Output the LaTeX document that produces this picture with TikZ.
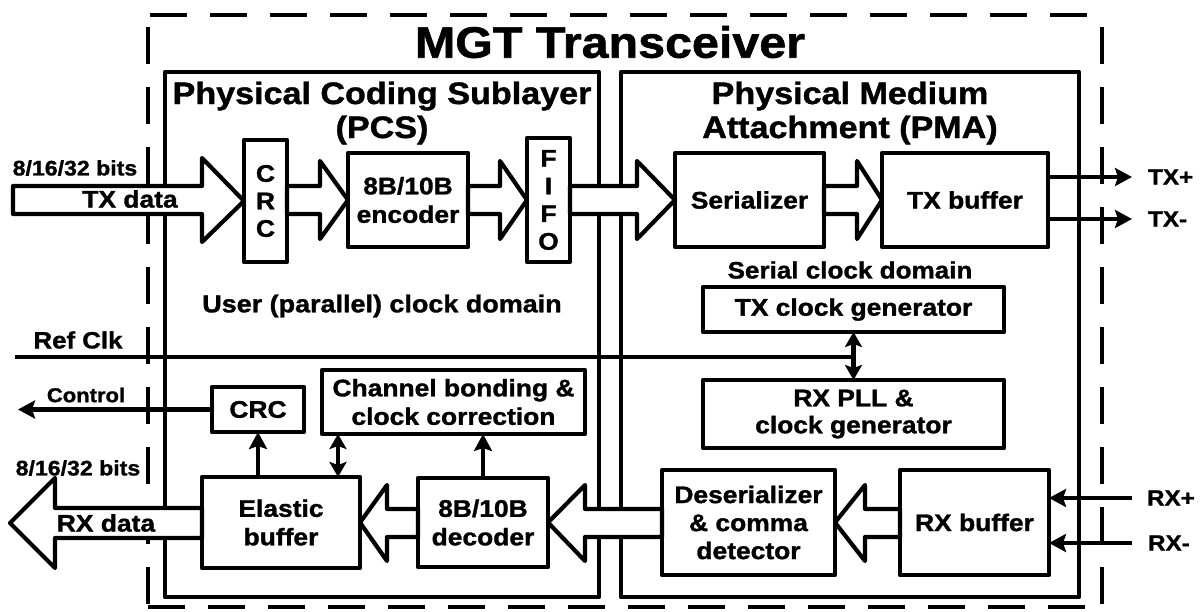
\documentclass[tikz,border=0pt]{standalone}
\usepackage{fontspec}
\setmainfont{Liberation Sans}[FakeStretch=1.1, BoldFeatures={FakeBold=1.3}]
\usetikzlibrary{arrows.meta}
\newcommand\fsz[2]{\fontsize{#1}{#2}\selectfont\bfseries}
\tikzset{
  box/.style={draw, fill=white, rectangle, inner sep=0pt, outer sep=0pt, align=center, font=\fsz{24}{28.5}},
  layer/.style={draw, rectangle, inner sep=0pt, outer sep=0pt},
  blk/.style={draw, fill=white},
  outer/.style={line cap=butt, dash pattern=on 37pt off 23pt},
  thinarr/.style={-{Stealth[length=17pt,width=18pt,inset=3pt]}},
  dblarr/.style={{Stealth[length=15pt,width=17pt,inset=3pt]}-{Stealth[length=15pt,width=17pt,inset=3pt]}},
  lbl/.style={inner sep=0pt, font=\fsz{24}{28}},
  small/.style={inner sep=0pt, font=\fsz{21}{24}},
}
\begin{document}
\begin{tikzpicture}[x=1pt,y=-1pt,line width=4.2pt,line join=round]
\useasboundingbox (0,0) rectangle (1203,612);
% outer dashed frame
\draw[outer] (150,15) -- (1102,15);
\draw[outer] (148,27) -- (148,607);
\draw[outer] (1102,27) -- (1102,607);
\draw[outer] (148,607) -- (1102,607);
\node[inner sep=0pt, font=\fsz{44}{48}] (title) at (610,42) {MGT Transceiver};
% sublayers
\node[layer, minimum width=434pt, minimum height=525pt] (pcs) at (382,334.5) {};
\node[layer, minimum width=458pt, minimum height=525pt] (pma) at (850,334.5) {};
\node[inner sep=0pt, align=center, font=\fsz{31}{34}] (pcsl) at (382,113) {Physical Coding Sublayer\\(PCS)};
\node[inner sep=0pt, align=center, font=\fsz{31}{34}] (pmal) at (850,113) {Physical Medium\\Attachment (PMA)};
% TX path boxes
\node[box, minimum width=43pt, minimum height=122pt, font=\fsz{24}{27.5}] (txcrc) at (265.5,201) {C\\R\\C};
\node[box, minimum width=120pt, minimum height=94pt] (enc) at (408,200) {8B/10B\\encoder};
\node[box, minimum width=43pt, minimum height=124pt, font=\fsz{24}{27.7}] (fifo) at (548.5,200) {F\\I\\F\\O};
\node[box, minimum width=149pt, minimum height=94pt] (ser) at (749.5,200) {Serializer};
\node[box, minimum width=166pt, minimum height=94pt] (txbuf) at (965,200) {TX buffer};
% clocks
\node[box, minimum width=301pt, minimum height=45pt] (txclk) at (853.5,309.5) {TX clock generator};
\node[box, minimum width=301pt, minimum height=68pt, font=\fsz{24}{27}] (rxpll) at (853.5,414) {RX PLL \&\\clock generator};
% RX path boxes
\node[box, minimum width=92pt, minimum height=45pt] (rxcrc) at (258,409.5) {CRC};
\node[box, minimum width=263pt, minimum height=64pt] (chb) at (453.5,402) {Channel bonding \&\\clock correction};
\node[box, minimum width=158pt, minimum height=91pt] (elastic) at (281,522.5) {Elastic\\buffer};
\node[box, minimum width=130pt, minimum height=89pt] (dec) at (483,522.5) {8B/10B\\decoder};
\node[box, minimum width=173pt, minimum height=105pt, font=\fsz{24}{28}] (deser) at (748.5,522.5) {Deserializer\\\& comma\\detector};
\node[box, minimum width=149pt, minimum height=105pt] (rxbuf) at (974.5,522.5) {RX buffer};
% free ends
\coordinate (txin) at (13,199);
\coordinate (rxout) at (10,523);
\coordinate (refclk) at (15,357);
\coordinate (ctrl) at (18,410);
\coordinate (txp) at (1132,177);
\coordinate (txn) at (1132,219);
\coordinate (rxp) at (1132,498);
\coordinate (rxn) at (1132,543);
% TX block arrows
\draw[blk] (txin |- 0,186) -- (202,186) -- (202,158) -- (txcrc.west) -- (202,242) -- (202,214) -- (txin |- 0,214) -- cycle;
\draw[blk] (txcrc.east |- 0,186) -- (320,186) -- (320,161) -- (enc.west) -- (320,239) -- (320,214) -- (txcrc.east |- 0,214) -- cycle;
\draw[blk] (enc.east |- 0,186) -- (500,186) -- (500,161) -- (fifo.west) -- (500,239) -- (500,214) -- (enc.east |- 0,214) -- cycle;
\draw[blk] (fifo.east |- 0,186) -- (637,186) -- (637,161) -- (ser.west) -- (637,239) -- (637,214) -- (fifo.east |- 0,214) -- cycle;
\draw[blk] (ser.east |- 0,186) -- (857,186) -- (857,161) -- (txbuf.west) -- (857,239) -- (857,214) -- (ser.east |- 0,214) -- cycle;
% RX block arrows
\draw[blk] (rxbuf.west |- 0,509) -- (865,509) -- (865,485) -- (deser.east) -- (865,561) -- (865,537) -- (rxbuf.west |- 0,537) -- cycle;
\draw[blk] (deser.west |- 0,509) -- (585,509) -- (585,485) -- (dec.east) -- (585,561) -- (585,537) -- (deser.west |- 0,537) -- cycle;
\draw[blk] (dec.west |- 0,509) -- (387,509) -- (387,485) -- (elastic.east) -- (387,561) -- (387,537) -- (dec.west |- 0,537) -- cycle;
\draw[blk] (elastic.west |- 0,508) -- (55,508) -- (55,478) -- (rxout) -- (55,568) -- (55,538) -- (elastic.west |- 0,538) -- cycle;
% thin connectors
\draw[thinarr] (txbuf.east |- txp) -- (txp);
\draw[thinarr] (txbuf.east |- txn) -- (txn);
\draw[thinarr] (rxp) -- (rxp -| rxbuf.east);
\draw[thinarr] (rxn) -- (rxn -| rxbuf.east);
\draw[thinarr] (rxcrc.west) -- (rxcrc.west -| ctrl);
\draw (refclk) -- (refclk -| txclk.south);
\draw[dblarr] (txclk.south) -- (rxpll.north);
\draw[thinarr] (elastic.north -| rxcrc.south) -- (rxcrc.south);
\draw[dblarr] (elastic.north -| 338,0) -- (chb.south -| 338,0);
\draw[thinarr] (dec.north) -- (dec.north |- chb.south);
% labels
\node[small] (tdb) at (75,168) {8/16/32 bits};
\node[lbl] (tdl) at (130,199) {TX data};
\node[inner sep=0pt, font=\fsz{23.5}{27}] (rcl) at (78,340) {Ref Clk};
\node[inner sep=0pt, font=\fsz{20}{24}] (ctl) at (86,395) {Control};
\node[small] (rdb) at (78,468) {8/16/32 bits};
\node[lbl] (rdl) at (106,523) {RX data};
\node[small, font=\fsz{22}{24}, anchor=west] (txpl) at (1146,177) {TX+};
\node[small, font=\fsz{22}{24}, anchor=west] (txnl) at (1146,219) {TX-};
\node[small, font=\fsz{22}{24}, anchor=west] (rxpl) at (1145,498) {RX+};
\node[small, font=\fsz{22}{24}, anchor=west] (rxnl) at (1146,543) {RX-};
\node[inner sep=0pt, font=\fsz{24.5}{28}] (ucd) at (382,306) {User (parallel) clock domain};
\node[inner sep=0pt, font=\fsz{23.7}{27}] (scd) at (850,270) {Serial clock domain};
\end{tikzpicture}
\end{document}
